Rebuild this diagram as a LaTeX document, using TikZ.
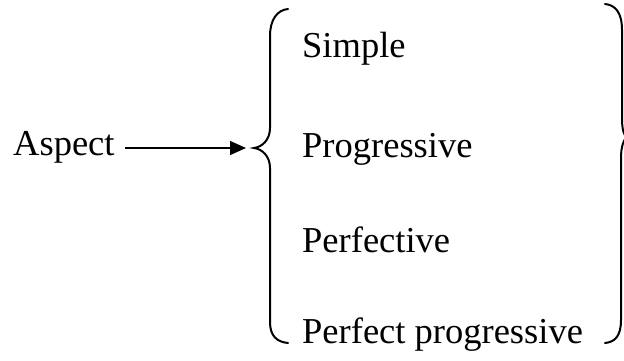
\documentclass[tikz,border=0pt]{standalone}
\usepackage{fontspec}
\setmainfont{Liberation Serif}
\usetikzlibrary{arrows.meta}
\begin{document}
\begin{tikzpicture}[x=1pt,y=-1pt,
  lbl/.style={anchor=base west,inner sep=0pt,font=\fontsize{36.5}{40}\selectfont},
  arr/.style={line width=1.4pt,-{Triangle[length=16pt,width=14pt]}},
  brace/.style={line width=2pt,line cap=round}]
\useasboundingbox (0,0) rectangle (624,360);
\node[lbl,inner xsep=10pt] (aspect) at (3,155) {Aspect};
\coordinate (tip) at (246,148);
\draw[arr] (aspect.east |- tip) -- (tip);
\node[lbl] (simple) at (302,57) {Simple};
\node[lbl] (prog) at (302,157) {Progressive};
\node[lbl] (perf) at (302,252) {Perfective};
\node[lbl] (perfprog) at (302,343) {Perfect progressive};
% left brace
\draw[brace] (288,9) .. controls (277,10) and (270,20) .. (270,36) -- (270,128)
  .. controls (270,140) and (262,147) .. (254,148)
  .. controls (262,149) and (270,156) .. (270,168) -- (270,322)
  .. controls (270,336) and (277,342) .. (288,343);
% right brace
\draw[brace] (605,4) .. controls (615,5) and (622,12) .. (622,30) -- (622,118)
  .. controls (622,130) and (624,136) .. (627,137)
  .. controls (624,139) and (621,146) .. (621,158) -- (621,320)
  .. controls (621,336) and (615,342) .. (605,343);
\end{tikzpicture}
\end{document}
